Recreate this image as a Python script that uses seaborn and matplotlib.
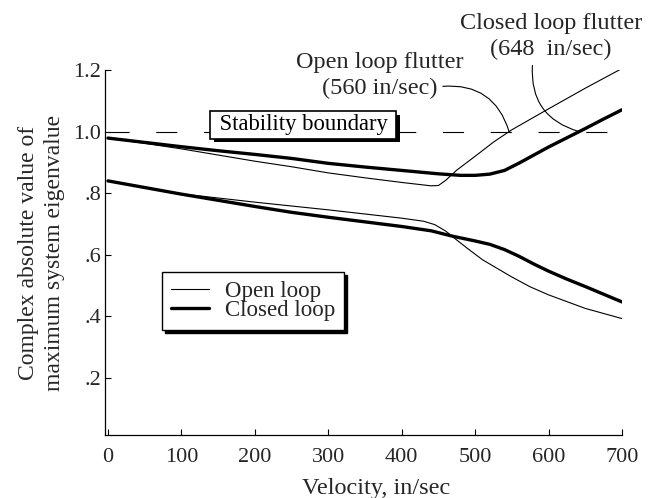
import numpy as np
import pandas as pd
import matplotlib
matplotlib.use("Agg")
import matplotlib.pyplot as plt
import matplotlib.patheffects as pe
import seaborn as sns

# eigenvalue magnitude vs velocity (in/sec)
open_upper_v = [0, 50, 100, 150, 200, 250, 300, 350, 400, 440, 450, 460, 475, 500, 525, 550, 575, 600, 650, 700]
open_upper_y = [0.979, 0.962, 0.944, 0.924, 0.904, 0.886, 0.866, 0.850, 0.835, 0.824, 0.825, 0.842, 0.875,
                0.920, 0.966, 1.006, 1.040, 1.074, 1.141, 1.205]

closed_upper_v = [0, 50, 100, 150, 200, 250, 300, 350, 400, 450, 480, 500, 520, 540, 560, 580, 600, 625, 650,
                  675, 700]
closed_upper_y = [0.979, 0.965, 0.951, 0.938, 0.926, 0.913, 0.897, 0.885, 0.874, 0.863, 0.858, 0.858, 0.862,
                  0.874, 0.898, 0.924, 0.950, 0.980, 1.010, 1.041, 1.071]

open_lower_v = [0, 100, 200, 300, 400, 430, 445, 460, 475, 490, 510, 550, 575, 600, 650, 700]
open_lower_y = [0.840, 0.798, 0.771, 0.746, 0.719, 0.709, 0.698, 0.677, 0.648, 0.620, 0.584, 0.528, 0.496,
                0.470, 0.426, 0.393]

closed_lower_v = [0, 100, 200, 250, 300, 350, 400, 440, 470, 500, 520, 540, 560, 580, 600, 625, 650, 675, 700]
closed_lower_y = [0.840, 0.797, 0.757, 0.738, 0.722, 0.707, 0.692, 0.678, 0.660, 0.645, 0.634, 0.617, 0.595,
                  0.570, 0.547, 0.521, 0.497, 0.472, 0.447]

boundary_v = [0, 680]
boundary_y = [1.0, 1.0]

x_ticks = [0, 100, 200, 300, 400, 500, 600, 700]
y_ticks = [0.2, 0.4, 0.6, 0.8, 1.0, 1.2]
y_tick_labels = [".2", ".4", ".6", ".8", "1.0", "1.2"]

sns.set_theme(style="ticks")
plt.rcParams["font.family"] = ["Liberation Serif", "DejaVu Serif"]
plt.rcParams["axes.edgecolor"] = "black"

fig = plt.figure(figsize=(6.58, 4.98), dpi=100)
ax = fig.add_axes([0.1596, 0.1265, 0.7857, 0.7329])

THIN, THICK = 0.8, 2.4

sns.lineplot(x=open_upper_v, y=open_upper_y, ax=ax, color="black", lw=THIN, label="Open loop")
sns.lineplot(x=closed_upper_v, y=closed_upper_y, ax=ax, color="black", lw=THICK, label="Closed loop")
sns.lineplot(x=open_lower_v, y=open_lower_y, ax=ax, color="black", lw=THIN)
sns.lineplot(x=closed_lower_v, y=closed_lower_y, ax=ax, color="black", lw=THICK)
sns.lineplot(x=boundary_v, y=boundary_y, ax=ax, color="black", lw=0.8,
             linestyle=(0, (19, 24)))

ax.set_xlim(-4, 700)
ax.set_ylim(0.015, 1.2)
ax.set_xticks(x_ticks)
ax.set_xticklabels([str(v) for v in x_ticks])
ax.set_yticks(y_ticks)
ax.set_yticklabels(y_tick_labels)
ax.tick_params(axis="both", direction="in", length=4, width=0.8, labelsize=16, color="black")
ax.tick_params(axis="x", pad=9)
ax.tick_params(axis="y", pad=3)
sns.despine(ax=ax)
for s in ("left", "bottom"):
    ax.spines[s].set_linewidth(0.9)

ax.set_xlabel("Velocity, in/sec", fontsize=17.5)
ax.xaxis.set_label_coords(0.524, -0.117)
ax.set_ylabel("Complex absolute value of\nmaximum system eigenvalue", fontsize=17, linespacing=1.3)
ax.yaxis.set_label_coords(-0.078, 0.5)

# legend with a drop shadow, like the original
leg = ax.legend(loc="upper left", bbox_to_anchor=(0.110, 0.447), borderaxespad=0,
                fontsize=16.5, frameon=True, fancybox=False, handlelength=1.65,
                handletextpad=0.7, labelspacing=-0.08, borderpad=0.4,
                shadow={"facecolor": "black", "edgecolor": "black", "alpha": 1})
leg.get_frame().set_edgecolor("black")
leg.get_frame().set_linewidth(1.0)
leg.get_frame().set_alpha(1)

# stability boundary label box with a drop shadow
stab = ax.text(266, 1.022, " Stability boundary ", fontsize=16.3, ha="center", va="center",
               color="black", zorder=6,
               bbox=dict(boxstyle="square,pad=0.14", fc="white", ec="black", lw=1.2))
stab.get_bbox_patch().set_path_effects([
    pe.SimplePatchShadow(offset=(2.5, -2.5), shadow_rgbFace="black", alpha=1),
    pe.Normal(),
])

# flutter points = where the rising branches cross the boundary
open_flutter = np.interp(1.0, open_upper_y[9:], open_upper_v[9:])
closed_flutter = np.interp(1.0, closed_upper_y[11:], closed_upper_v[11:])

ax.text(370, 1.182, "Open loop flutter\n(560 in/sec)", fontsize=17.5, ha="center", va="center",
        linespacing=1.3)
ax.annotate("", xy=(open_flutter, 1.0), xytext=(456, 1.147), annotation_clip=False,
            arrowprops=dict(arrowstyle="-", lw=0.8, color="black",
                            connectionstyle="arc3,rad=-0.4", shrinkA=0, shrinkB=0))
ax.text(603, 1.308, "Closed loop flutter\n(648  in/sec)", fontsize=17.5, ha="center", va="center",
        linespacing=1.3)
ax.annotate("", xy=(closed_flutter, 1.0), xytext=(578, 1.215), annotation_clip=False,
            arrowprops=dict(arrowstyle="-", lw=0.8, color="black",
                            connectionstyle="arc3,rad=0.4", shrinkA=0, shrinkB=0))

fig.savefig("out.png", dpi=100, facecolor="white")
